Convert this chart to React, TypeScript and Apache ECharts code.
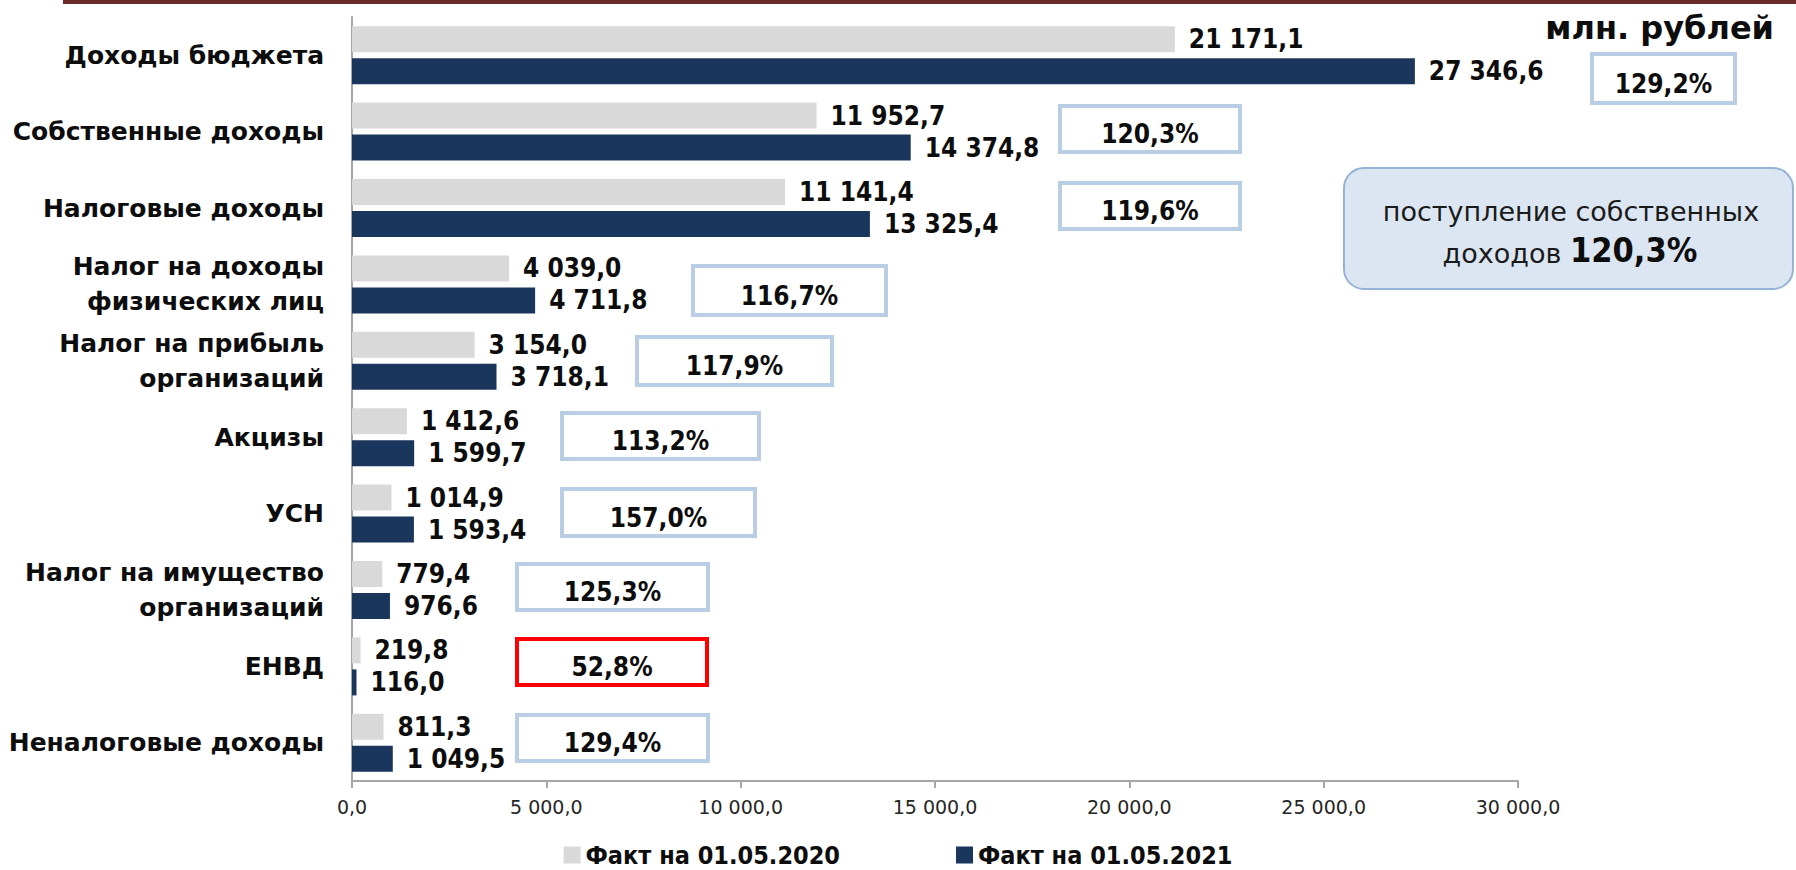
import React, { useEffect, useRef } from "react";
import * as echarts from "echarts";

const categories = [
  "Доходы бюджета",
  "Собственные доходы",
  "Налоговые доходы",
  "Налог на доходы\nфизических лиц",
  "Налог на прибыль\nорганизаций",
  "Акцизы",
  "УСН",
  "Налог на имущество\nорганизаций",
  "ЕНВД",
  "Неналоговые доходы",
];
const fact2020 = [21171.1, 11952.7, 11141.4, 4039.0, 3154.0, 1412.6, 1014.9, 779.4, 219.8, 811.3];
const fact2021 = [27346.6, 14374.8, 13325.4, 4711.8, 3718.1, 1599.7, 1593.4, 976.6, 116.0, 1049.5];
const percents = ["129,2%", "120,3%", "119,6%", "116,7%", "117,9%", "113,2%", "157,0%", "125,3%", "52,8%", "129,4%"];
const percentAlert = [false, false, false, false, false, false, false, false, true, false];
const seriesNames = ["Факт на 01.05.2020", "Факт на 01.05.2021"];
const xTicks = { min: 0, max: 30000, interval: 5000 };
const unitLabel = "млн. рублей";
const summaryLine1 = "поступление собственных";
const summaryLine2a = "доходов ";
const summaryLine2b = "120,3%";

// layout of percentage boxes [x, y, w, h] in pixels
const boxLayout = [
  [1590, 52, 147, 53],
  [1058, 104, 184, 50],
  [1058, 181, 184, 50],
  [691, 264, 197, 53],
  [635, 335, 199, 52],
  [560, 411, 201, 50],
  [560, 487, 197, 51],
  [515, 562, 195, 50],
  [515, 637, 194, 50],
  [515, 713, 195, 50],
];

const fmt = (v: number) => {
  const [i, d] = v.toFixed(1).split(".");
  return i.replace(/\B(?=(\d{3})+(?!\d))/g, " ") + "," + d;
};

const COND = "'DejaVu Sans Condensed', 'DejaVu Sans', sans-serif";
const SANS = "'DejaVu Sans', sans-serif";

export default function App() {
  const ref = useRef<HTMLDivElement>(null);
  useEffect(() => {
    if (!ref.current) return;
    const chart = echarts.init(ref.current, undefined, { renderer: "svg" });

    const graphic: any[] = [
      { type: "rect", shape: { x: 63, y: 0, width: 1733, height: 4 }, style: { fill: "#6B2A2A" } },
      {
        type: "text",
        style: {
          x: 1774, y: 28, text: unitLabel, align: "right", verticalAlign: "middle",
          fill: "#0D0D0D", font: `bold 32px ${SANS}`,
        },
      },
      {
        type: "rect",
        shape: { x: 1344, y: 168, width: 449, height: 121, r: 20 },
        style: { fill: "#DCE6F2", stroke: "#95B3D7", lineWidth: 2 },
      },
      {
        type: "text",
        style: {
          x: 1571, y: 211, text: summaryLine1, align: "center", verticalAlign: "middle",
          fill: "#1A1A1A", font: `27px ${SANS}`,
        },
      },
      {
        type: "text",
        style: {
          x: 1570, y: 250, align: "center", verticalAlign: "middle",
          text: `{a|${summaryLine2a}}{b|${summaryLine2b}}`,
          rich: {
            a: { fontFamily: SANS, fontSize: 27, fill: "#1A1A1A", verticalAlign: "bottom" },
            b: { fontFamily: COND, fontSize: 34, fontWeight: "bold", fill: "#0D0D0D" },
          },
        },
      },
    ];
    boxLayout.forEach(([x, y, w, h], i) => {
      graphic.push({
        type: "rect",
        shape: { x: x + 2, y: y + 2, width: w - 4, height: h - 4 },
        style: { fill: "#FFFFFF", stroke: percentAlert[i] ? "#FF0000" : "#B9CDE5", lineWidth: 4 },
      });
      graphic.push({
        type: "text",
        style: {
          x: x + w / 2, y: y + h / 2 + 5, text: percents[i], align: "center", verticalAlign: "middle",
          fill: "#0D0D0D", font: `bold 26px ${COND}`,
        },
      });
    });

    const labelStyle = {
      show: true,
      position: "right" as const,
      distance: 14,
      formatter: (p: any) => fmt(p.value),
      fontFamily: COND,
      fontWeight: "bold" as const,
      fontSize: 26,
      color: "#0D0D0D",
    };

    chart.setOption({
      animation: false,
      grid: { left: 352, right: 278, top: 17, bottom: 89, containLabel: false },
      legend: {
        left: "center",
        top: 842,
        padding: 0,
        itemWidth: 17,
        itemHeight: 17,
        itemGap: 116,
        icon: "rect",
        textStyle: { fontFamily: COND, fontWeight: "bold", fontSize: 25, color: "#0D0D0D", lineHeight: 26 },
        data: seriesNames,
      },
      xAxis: {
        type: "value",
        min: xTicks.min,
        max: xTicks.max,
        interval: xTicks.interval,
        axisLine: { show: true, lineStyle: { color: "#A6A6A6", width: 2 } },
        axisTick: { show: true, length: 7, lineStyle: { color: "#A6A6A6", width: 2 } },
        splitLine: { show: false },
        axisLabel: {
          formatter: (v: number) => fmt(v),
          fontFamily: SANS,
          fontSize: 19,
          color: "#262626",
          margin: 16,
        },
      },
      yAxis: {
        type: "category",
        inverse: true,
        data: categories,
        axisLine: { show: true, lineStyle: { color: "#A6A6A6", width: 2 } },
        axisTick: { show: false },
        axisLabel: {
          fontFamily: SANS,
          fontWeight: "bold",
          fontSize: 25,
          color: "#0D0D0D",
          margin: 28,
          lineHeight: 35,
        },
      },
      series: [
        {
          name: seriesNames[0],
          type: "bar",
          data: fact2020,
          barWidth: 26,
          barGap: "23%",
          itemStyle: { color: "#D9D9D9" },
          label: labelStyle,
        },
        {
          name: seriesNames[1],
          type: "bar",
          data: fact2021,
          barWidth: 26,
          barGap: "23%",
          itemStyle: { color: "#1B365D" },
          label: labelStyle,
        },
      ],
      graphic,
    });
    return () => chart.dispose();
  }, []);
  return (
    <div
      ref={ref}
      style={{ position: "absolute", left: 0, top: 0, width: 1796, height: 870, background: "#FFFFFF" }}
    />
  );
}
